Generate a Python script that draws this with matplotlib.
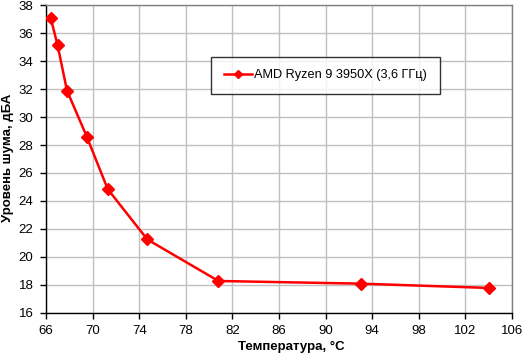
import matplotlib
matplotlib.use("Agg")
import matplotlib.pyplot as plt

temps = [66.4, 67.0, 67.8, 69.5, 71.3, 74.7, 80.8, 93.0, 104.05]
noise = [37.1, 35.13, 31.9, 28.6, 24.84, 21.24, 18.27, 18.08, 17.77]
series_name = "AMD Ryzen 9 3950X (3,6 ГГц)"
xticks = list(range(66, 107, 4))
yticks = list(range(16, 39, 2))

plt.rcParams['font.family'] = ['Liberation Sans', 'DejaVu Sans']

fig = plt.figure(figsize=(5.22, 3.54), dpi=100)
ax = fig.add_axes([46/522, 1-312.7/354, (512-46)/522, (312.7-5.3)/354])

ax.plot(temps, noise, color='#ff0000', lw=1.8, marker='D', ms=6.5,
        mfc='#ff0000', mec='#ff0000', label=series_name, zorder=3)

ax.set_xlim(66, 106)
ax.set_ylim(16, 38)
ax.set_xticks(xticks)
ax.set_yticks(yticks)
ax.grid(True, color='#c0c0c0', lw=1.0)
ax.set_axisbelow(True)
for s in ['top', 'right']:
    ax.spines[s].set_color('#808080')
for s in ['left', 'bottom']:
    ax.spines[s].set_color('black')
for s in ax.spines.values():
    s.set_linewidth(1.0)
ax.tick_params(direction='out', length=4, width=1, labelsize=9.5, colors='black', pad=5)

fig.text(291/522, 1-347/354, "Температура, °C", ha='center', va='center',
         fontsize=9.5, fontweight='bold')
fig.text(8/522, 1-158/354, "Уровень шума, дБА", ha='center', va='center',
         rotation=90, fontsize=9.5, fontweight='bold')

leg = ax.legend(loc='upper left', bbox_to_anchor=((211-46)/466, 1-(56.7-5.3)/307.4),
                frameon=True, fancybox=False, shadow=False, fontsize=9.2,
                borderpad=1.0, handlelength=2.2, handletextpad=0.2, borderaxespad=0,
                markerscale=0.6)
leg.get_frame().set_edgecolor('black')
leg.get_frame().set_linewidth(1.0)

fig.savefig("out.png", dpi=100)
